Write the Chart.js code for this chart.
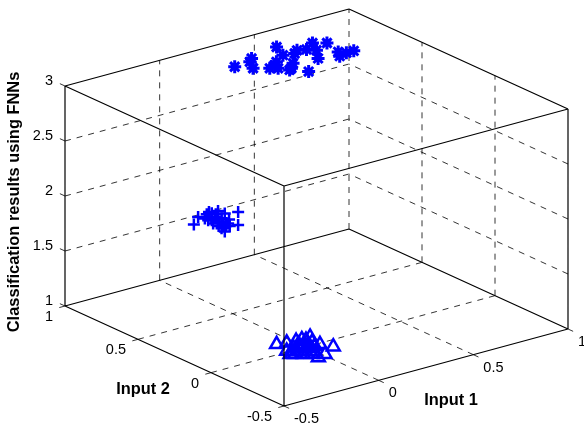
<!DOCTYPE html>
<html>
<head>
<meta charset="utf-8">
<title>Classification results using FNNs</title>
<script src="https://cdn.jsdelivr.net/npm/chart.js@4"></script>
<style>
    html, body { margin: 0; padding: 0; background: #fff; }
    canvas { display: block; }
</style>
</head>
<body>
<canvas id="fnnChart" width="584" height="430"></canvas>
<script>
const input1Ticks = [-0.5, 0, 0.5, 1];
const input2Ticks = [-0.5, 0, 0.5, 1];
const outputTicks = [1, 1.5, 2, 2.5, 3];

const xTickLabels = ["-0.5", "0", "0.5", "1"];
const yTickLabels = ["-0.5", "0", "0.5", "1"];
const zTickLabels = ["1", "1.5", "2", "2.5", "3"];

// class 3 (stars)
const starInput1 = [0.202, 0.318, 0.288, 0.252, 0.484, 0.446, 0.307, 0.376, 0.335, 0.347, 0.379, 0.420, 0.361, 0.412, 0.528, 0.497, 0.565, 0.632, 0.593, 0.539, 0.680, 0.653, 0.627, 0.673, 0.712];
const starInput2 = [0.748, 0.783, 0.756, 0.687, 0.827, 0.734, 0.644, 0.688, 0.623, 0.662, 0.589, 0.631, 0.578, 0.514, 0.744, 0.720, 0.727, 0.773, 0.695, 0.614, 0.736, 0.624, 0.580, 0.594, 0.594];
const starOutput = 3;

// class 2 (plus)
const plusInput1 = [-0.279, -0.211, -0.139, -0.200, -0.167, -0.102, -0.098, -0.042, -0.208, -0.175, -0.216, -0.229, -0.158, -0.137, -0.161, -0.201, -0.187, -0.127, -0.163, -0.139, -0.133, -0.189, -0.183, -0.142, -0.185, -0.172, -0.209, -0.158];
const plusInput2 = [0.404, 0.463, 0.482, 0.431, 0.429, 0.468, 0.427, 0.408, 0.364, 0.362, 0.296, 0.257, 0.326, 0.285, 0.402, 0.407, 0.323, 0.360, 0.466, 0.463, 0.443, 0.398, 0.364, 0.391, 0.307, 0.297, 0.325, 0.418];
const plusOutput = 2;

// class 1 (triangles)
const triInput1 = [-0.077, -0.032, 0.042, 0.088, 0.067, 0.094, -0.034, -0.104, -0.047, -0.002, -0.003, 0.012, -0.046, -0.005, 0.028, 0.038, -0.092, -0.060, -0.032, -0.088, -0.002, 0.011, 0.051, -0.012, 0.057, -0.057, -0.031, 0.007, -0.095, -0.045];
const triInput2 = [0.099, 0.088, 0.081, 0.084, -0.011, -0.067, -0.131, -0.028, -0.023, -0.009, -0.056, -0.117, 0.025, 0.044, 0.018, -0.014, 0.011, -0.062, -0.083, -0.040, 0.016, 0.080, 0.064, 0.024, 0.030, -0.015, -0.035, -0.020, -0.030, -0.068];
const triOutput = 1;

const xMin = -0.5, xMax = 1, yMin = -0.5, yMax = 1, zMin = 1, zMax = 3;

// fixed 3D view, orthographic
function project(x, y, z) {
    const a = (x - xMin) / (xMax - xMin);
    const b = (y - yMin) / (yMax - yMin);
    const c = (z - zMin) / (zMax - zMin);
    return {
        x: 284 + 284 * a - 219 * b,
        y: 406 - 77 * a - 100 * b - 220 * c
    };
}

function cloud(xs, ys, z) {
    return xs.map((x, i) => project(x, ys[i], z));
}

// list of 3D segments -> points with gaps
function segments(list) {
    const pts = [];
    list.forEach(s => {
        pts.push(project(s[0], s[1], s[2]));
        pts.push(project(s[3], s[4], s[5]));
        pts.push({ x: null, y: null });
    });
    return pts;
}

const gridSegs = [];
[0, 0.5].forEach(v => {
    gridSegs.push([v, yMin, zMin, v, yMax, zMin]);
    gridSegs.push([xMin, v, zMin, xMax, v, zMin]);
    gridSegs.push([v, yMax, zMin, v, yMax, zMax]);
    gridSegs.push([xMax, v, zMin, xMax, v, zMax]);
});
[1.5, 2, 2.5].forEach(v => {
    gridSegs.push([xMin, yMax, v, xMax, yMax, v]);
    gridSegs.push([xMax, yMin, v, xMax, yMax, v]);
});
gridSegs.push([xMax, yMax, zMin, xMax, yMax, zMax]);

const boxSegs = [
    [xMin, yMin, zMin, xMax, yMin, zMin],
    [xMin, yMin, zMin, xMin, yMax, zMin],
    [xMin, yMax, zMin, xMax, yMax, zMin],
    [xMax, yMin, zMin, xMax, yMax, zMin],
    [xMin, yMin, zMax, xMax, yMin, zMax],
    [xMin, yMin, zMax, xMin, yMax, zMax],
    [xMin, yMax, zMax, xMax, yMax, zMax],
    [xMax, yMin, zMax, xMax, yMax, zMax],
    [xMin, yMin, zMin, xMin, yMin, zMax],
    [xMin, yMax, zMin, xMin, yMax, zMax],
    [xMax, yMin, zMin, xMax, yMin, zMax]
];

const tickSegs = [];
input1Ticks.forEach(v => tickSegs.push([v, yMin, zMin, v, yMin - 0.035, zMin]));
input2Ticks.forEach(v => tickSegs.push([xMin, v, zMin, xMin - 0.03, v, zMin]));
outputTicks.forEach(v => tickSegs.push([xMin, yMax, v, xMin, yMax + 0.035, v]));

const textLabels = {
    id: "textLabels",
    afterDraw(chart) {
        const ctx = chart.ctx;
        const sx = chart.scales.x;
        const sy = chart.scales.y;

        ctx.save();
        ctx.fillStyle = "#000";
        ctx.textBaseline = "middle";
        ctx.font = "14.5px 'Liberation Sans', Arial, sans-serif";

        ctx.textAlign = "left";
        input1Ticks.forEach((v, i) => {
            const p = project(v, yMin, zMin);
            ctx.fillText(xTickLabels[i], sx.getPixelForValue(p.x) + 10, sy.getPixelForValue(p.y) + 13);
        });

        ctx.textAlign = "right";
        input2Ticks.forEach((v, i) => {
            const p = project(xMin, v, zMin);
            ctx.fillText(yTickLabels[i], sx.getPixelForValue(p.x) - 12, sy.getPixelForValue(p.y) + 11);
        });
        outputTicks.forEach((v, i) => {
            const p = project(xMin, yMax, v);
            ctx.fillText(zTickLabels[i], sx.getPixelForValue(p.x) - 12, sy.getPixelForValue(p.y) - 5);
        });

        ctx.font = "bold 16.4px 'Liberation Sans', Arial, sans-serif";
        ctx.textAlign = "center";
        ctx.fillText("Input 1", 451, 400);
        ctx.fillText("Input 2", 143, 389);

        ctx.translate(14, 202);
        ctx.rotate(-Math.PI / 2);
        ctx.fillText("Classification results using FNNs", 0, 0);
        ctx.restore();
    }
};

function lineSet(data, width, dash, order) {
    return {
        type: "scatter",
        showLine: true,
        data: data,
        borderColor: "#000",
        borderWidth: width,
        borderDash: dash,
        pointRadius: 0,
        spanGaps: false,
        order: order
    };
}

function markerSet(data, style, radius, width, order) {
    return {
        type: "scatter",
        data: data,
        pointStyle: style,
        pointRadius: radius,
        pointBorderWidth: width,
        pointBorderColor: "#0000ff",
        pointBackgroundColor: "rgba(0,0,0,0)",
        order: order
    };
}

new Chart(document.getElementById("fnnChart"), {
    type: "scatter",
    data: {
        datasets: [
            lineSet(segments(boxSegs), 1.2, [], 1),
            lineSet(segments(tickSegs), 0.8, [], 1),
            markerSet(cloud(starInput1, starInput2, starOutput), "star", 6.5, 3, 2),
            markerSet(cloud(plusInput1, plusInput2, plusOutput), "cross", 6, 2.5, 2),
            markerSet(cloud(triInput1, triInput2, triOutput), "triangle", 7.5, 2.5, 2),
            lineSet(segments(gridSegs), 0.8, [6, 6], 3)
        ]
    },
    options: {
        responsive: false,
        animation: false,
        layout: { padding: 0, autoPadding: false },
        plugins: {
            legend: { display: false },
            tooltip: { enabled: false }
        },
        scales: {
            x: { type: "linear", display: false, min: 0, max: 584 },
            y: { type: "linear", display: false, min: 0, max: 430, reverse: true }
        }
    },
    plugins: [textLabels]
});
</script>
</body>
</html>
